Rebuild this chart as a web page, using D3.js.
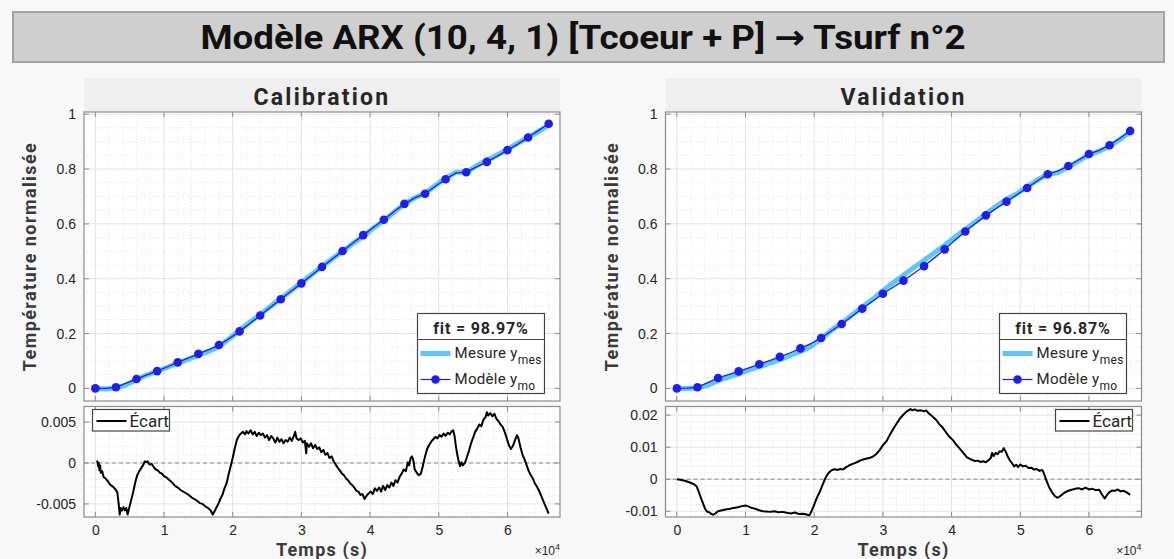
<!DOCTYPE html>
<html><head><meta charset="utf-8">
<script src="https://cdn.jsdelivr.net/npm/d3@7"></script>
<style>
html,body{margin:0;padding:0;background:#f8f8f8;}
svg{display:block;}
</style></head>
<body>
<svg id="fig" width="1174" height="559"></svg>
<script>
// ---------- DATA (time in units of 1e4 s) ----------
const mainTitle = "Modèle ARX (10, 4, 1) [Tcoeur + P] → Tsurf n°2";
const panelTitles = ["Calibration", "Validation"];
const fitLabels = ["fit = 98.97%", "fit = 96.87%"];
const xTicks = [0, 1, 2, 3, 4, 5, 6];
const yTicksTop = [0, 0.2, 0.4, 0.6, 0.8, 1];
const yTicksErrCal = [-0.005, 0, 0.005];
const yTicksErrVal = [-0.01, 0, 0.01, 0.02];

const timeFine = [0,0.15,0.3,0.45,0.6,0.75,0.9,1.05,1.2,1.35,1.5,1.65,1.8,1.95,2.1,2.25,2.4,2.55,2.7,2.85,3.0,3.15,3.3,3.45,3.6,3.75,3.9,4.05,4.2,4.35,4.5,4.65,4.8,4.95,5.1,5.25,5.4,5.55,5.7,5.85,6.0,6.15,6.3,6.45,6.6];

const mesCal = [0.000,-0.002,0.001,0.013,0.032,0.049,0.062,0.077,0.092,0.106,0.121,0.135,0.153,0.181,0.212,0.241,0.270,0.299,0.328,0.357,0.386,0.415,0.445,0.473,0.500,0.528,0.555,0.585,0.612,0.643,0.672,0.695,0.711,0.740,0.767,0.788,0.788,0.812,0.832,0.851,0.872,0.894,0.915,0.937,0.959];
const moCal = [0.000,0.000,0.004,0.019,0.034,0.049,0.063,0.079,0.095,0.110,0.126,0.141,0.158,0.182,0.208,0.237,0.266,0.296,0.325,0.354,0.383,0.413,0.443,0.472,0.501,0.530,0.559,0.588,0.615,0.645,0.673,0.695,0.710,0.737,0.763,0.786,0.788,0.808,0.826,0.846,0.869,0.891,0.915,0.940,0.965];

const mesVal = [0.000,0.000,0.002,0.011,0.028,0.041,0.053,0.067,0.079,0.091,0.105,0.120,0.135,0.153,0.181,0.212,0.238,0.268,0.297,0.325,0.356,0.385,0.413,0.441,0.467,0.495,0.522,0.552,0.580,0.608,0.637,0.664,0.690,0.710,0.735,0.760,0.781,0.787,0.807,0.830,0.852,0.865,0.883,0.908,0.934];
const moVal = [0.000,0.001,0.004,0.021,0.038,0.050,0.062,0.075,0.088,0.101,0.115,0.130,0.146,0.163,0.184,0.209,0.235,0.263,0.291,0.318,0.345,0.369,0.393,0.419,0.446,0.476,0.507,0.540,0.572,0.602,0.631,0.656,0.681,0.706,0.731,0.757,0.781,0.793,0.811,0.833,0.855,0.868,0.887,0.912,0.939];

const errCalT = [0.02,0.03,0.04,0.05,0.06,0.07,0.08,0.10,0.12,0.15,0.18,0.21,0.24,0.27,0.30,0.32,0.34,0.355,0.37,0.39,0.41,0.43,0.45,0.47,0.49,0.52,0.55,0.58,0.61,0.64,0.67,0.70,0.72,0.74,0.76,0.78,0.80,0.82,0.85,0.88,0.91,0.94,0.97,1.00,1.04,1.08,1.12,1.16,1.20,1.24,1.28,1.32,1.36,1.40,1.44,1.48,1.52,1.56,1.60,1.64,1.68,1.71,1.73,1.76,1.79,1.82,1.85,1.88,1.91,1.94,1.97,2.00,2.03,2.06,2.09,2.12,2.15,2.18,2.20,2.23,2.26,2.29,2.32,2.35,2.38,2.41,2.44,2.47,2.50,2.53,2.56,2.59,2.62,2.65,2.68,2.71,2.74,2.77,2.80,2.83,2.86,2.89,2.91,2.93,2.96,2.99,3.02,3.05,3.07,3.08,3.11,3.14,3.17,3.20,3.23,3.26,3.29,3.32,3.35,3.38,3.41,3.44,3.47,3.50,3.53,3.56,3.59,3.62,3.65,3.68,3.71,3.74,3.77,3.80,3.83,3.86,3.89,3.92,3.95,3.98,4.01,4.04,4.07,4.10,4.13,4.16,4.19,4.22,4.25,4.28,4.31,4.34,4.37,4.40,4.43,4.46,4.49,4.52,4.55,4.57,4.59,4.61,4.63,4.65,4.68,4.71,4.74,4.77,4.80,4.83,4.86,4.89,4.92,4.95,4.98,5.01,5.04,5.07,5.10,5.13,5.16,5.19,5.21,5.23,5.25,5.27,5.29,5.31,5.33,5.35,5.38,5.41,5.44,5.47,5.50,5.53,5.56,5.59,5.62,5.65,5.68,5.70,5.72,5.75,5.78,5.81,5.84,5.87,5.90,5.93,5.96,5.99,6.02,6.05,6.08,6.11,6.14,6.16,6.19,6.22,6.25,6.28,6.31,6.34,6.37,6.40,6.43,6.46,6.49,6.52,6.55,6.58,6.60];
const errCalV = [0.0001,0.0002,-0.0004,0.0000,-0.0009,-0.0003,-0.0012,-0.0010,-0.0017,-0.0019,-0.0022,-0.0026,-0.0028,-0.0030,-0.0033,-0.0036,-0.0050,-0.0063,-0.0055,-0.0058,-0.0054,-0.0058,-0.0055,-0.0063,-0.0056,-0.0046,-0.0036,-0.0024,-0.0015,-0.0010,-0.0006,-0.0002,0.0002,0.0001,0.0002,-0.0001,-0.0002,-0.0001,-0.0005,-0.0008,-0.0009,-0.0012,-0.0013,-0.0016,-0.0018,-0.0021,-0.0024,-0.0028,-0.0030,-0.0033,-0.0035,-0.0037,-0.0039,-0.0042,-0.0044,-0.0046,-0.0049,-0.0050,-0.0053,-0.0055,-0.0058,-0.0063,-0.0060,-0.0055,-0.0050,-0.0044,-0.0039,-0.0031,-0.0025,-0.0014,-0.0004,0.0006,0.0018,0.0028,0.0033,0.0036,0.0038,0.0035,0.0039,0.0036,0.0040,0.0035,0.0038,0.0033,0.0037,0.0034,0.0036,0.0031,0.0034,0.0028,0.0033,0.0030,0.0025,0.0031,0.0026,0.0029,0.0024,0.0028,0.0026,0.0031,0.0027,0.0033,0.0038,0.0030,0.0028,0.0030,0.0025,0.0027,0.0012,0.0024,0.0020,0.0024,0.0018,0.0022,0.0017,0.0019,0.0013,0.0016,0.0010,0.0012,0.0006,0.0008,0.0002,-0.0002,-0.0006,-0.0009,-0.0013,-0.0015,-0.0019,-0.0021,-0.0025,-0.0027,-0.0030,-0.0034,-0.0035,-0.0039,-0.0038,-0.0044,-0.0040,-0.0037,-0.0035,-0.0038,-0.0031,-0.0034,-0.0030,-0.0035,-0.0028,-0.0033,-0.0027,-0.0030,-0.0024,-0.0028,-0.0021,-0.0024,-0.0017,-0.0013,-0.0008,-0.0010,0.0001,-0.0003,0.0006,0.0008,0.0003,-0.0008,-0.0012,-0.0015,-0.0013,-0.0003,0.0008,0.0017,0.0022,0.0026,0.0029,0.0032,0.0030,0.0034,0.0032,0.0036,0.0033,0.0037,0.0035,0.0039,0.0040,0.0033,0.0020,0.0010,0.0002,-0.0004,0.0001,-0.0003,0.0000,0.0007,0.0015,0.0024,0.0031,0.0038,0.0042,0.0047,0.0045,0.0053,0.0056,0.0062,0.0058,0.0061,0.0057,0.0060,0.0054,0.0051,0.0047,0.0044,0.0038,0.0030,0.0022,0.0017,0.0021,0.0028,0.0034,0.0030,0.0019,0.0010,0.0004,-0.0003,-0.0010,-0.0015,-0.0019,-0.0025,-0.0029,-0.0034,-0.0040,-0.0046,-0.0052,-0.0058,-0.0062];

const errValT = [0.00,0.05,0.10,0.15,0.20,0.25,0.29,0.32,0.35,0.38,0.41,0.44,0.47,0.50,0.53,0.56,0.60,0.64,0.68,0.72,0.76,0.80,0.85,0.90,0.95,1.00,1.04,1.08,1.12,1.16,1.20,1.25,1.30,1.36,1.42,1.48,1.54,1.60,1.66,1.72,1.78,1.84,1.90,1.93,1.96,1.99,2.02,2.05,2.08,2.11,2.14,2.17,2.20,2.23,2.26,2.30,2.34,2.38,2.42,2.46,2.50,2.55,2.60,2.65,2.70,2.75,2.80,2.85,2.90,2.95,3.00,3.05,3.10,3.15,3.20,3.25,3.30,3.35,3.40,3.43,3.46,3.50,3.55,3.60,3.63,3.67,3.71,3.75,3.78,3.82,3.86,3.90,3.94,3.98,4.02,4.06,4.10,4.14,4.18,4.22,4.26,4.30,4.34,4.38,4.42,4.46,4.50,4.54,4.57,4.59,4.61,4.64,4.67,4.70,4.73,4.76,4.79,4.82,4.85,4.88,4.91,4.94,4.97,5.00,5.04,5.08,5.12,5.16,5.20,5.24,5.28,5.32,5.35,5.38,5.42,5.46,5.50,5.54,5.58,5.62,5.66,5.70,5.75,5.80,5.85,5.90,5.95,6.00,6.05,6.10,6.15,6.19,6.23,6.26,6.30,6.34,6.38,6.42,6.46,6.50,6.55,6.60];
const errValV = [0.0000,-0.0002,-0.0004,-0.0007,-0.0011,-0.0016,-0.0023,-0.0040,-0.0058,-0.0075,-0.0092,-0.0101,-0.0103,-0.0108,-0.0111,-0.0107,-0.0100,-0.0098,-0.0096,-0.0094,-0.0093,-0.0091,-0.0089,-0.0087,-0.0084,-0.0082,-0.0085,-0.0089,-0.0091,-0.0094,-0.0097,-0.0100,-0.0101,-0.0102,-0.0100,-0.0103,-0.0102,-0.0105,-0.0107,-0.0104,-0.0109,-0.0108,-0.0111,-0.0113,-0.0100,-0.0085,-0.0068,-0.0053,-0.0040,-0.0024,-0.0008,0.0006,0.0017,0.0024,0.0029,0.0031,0.0029,0.0032,0.0030,0.0037,0.0042,0.0047,0.0051,0.0056,0.0061,0.0064,0.0066,0.0070,0.0078,0.0090,0.0106,0.0118,0.0138,0.0157,0.0174,0.0190,0.0202,0.0212,0.0219,0.0215,0.0218,0.0214,0.0215,0.0212,0.0215,0.0205,0.0198,0.0190,0.0184,0.0172,0.0164,0.0152,0.0140,0.0130,0.0122,0.0110,0.0100,0.0090,0.0080,0.0069,0.0064,0.0060,0.0057,0.0058,0.0054,0.0056,0.0053,0.0060,0.0066,0.0082,0.0072,0.0082,0.0078,0.0087,0.0086,0.0097,0.0085,0.0070,0.0058,0.0050,0.0040,0.0045,0.0038,0.0046,0.0040,0.0042,0.0035,0.0036,0.0030,0.0032,0.0026,0.0029,0.0015,-0.0004,-0.0025,-0.0040,-0.0052,-0.0058,-0.0053,-0.0046,-0.0040,-0.0036,-0.0033,-0.0030,-0.0028,-0.0032,-0.0026,-0.0032,-0.0030,-0.0034,-0.0033,-0.0048,-0.0060,-0.0050,-0.0040,-0.0035,-0.0036,-0.0032,-0.0038,-0.0036,-0.0041,-0.0049];

// ---------- DRAWING ----------
const svg = d3.select("#fig");
const C_MES = "#5cc8f8", C_MO = "#1e1ef0", C_TXT = "#262626", C_AX = "#8c8c8c";
const FONT_LBL = "Roboto, 'DejaVu Sans', sans-serif";
const FONT_TICK = "'Liberation Sans', Arial, sans-serif";
const fmtTick = d => String(+d.toFixed(3)); // plain hyphen minus like the reference

// main title
svg.append("rect").attr("x",13).attr("y",12).attr("width",1151).attr("height",50)
  .attr("fill","#cfcfcf").attr("stroke","#a3a3a3").attr("stroke-width",2);
svg.append("text").attr("x",583).attr("y",49).attr("text-anchor","middle")
  .attr("font-family",FONT_LBL).attr("font-weight",700).attr("font-size",34)
  .attr("fill","#111").attr("textLength",765).attr("lengthAdjust","spacingAndGlyphs")
  .text(mainTitle);

function grid(g, x, y, xMinor, yMinor, xr, yr) {
  g.selectAll(null).data(xMinor).enter().append("line")
    .attr("x1",d=>x(d)).attr("x2",d=>x(d)).attr("y1",yr[0]).attr("y2",yr[1])
    .attr("stroke","#dcdcdc").attr("stroke-width",0.8).attr("stroke-dasharray","1,2");
  g.selectAll(null).data(yMinor).enter().append("line")
    .attr("y1",d=>y(d)).attr("y2",d=>y(d)).attr("x1",xr[0]).attr("x2",xr[1])
    .attr("stroke","#dcdcdc").attr("stroke-width",0.8).attr("stroke-dasharray","1,2");
}
function majorGrid(g, x, y, xt, yt, xr, yr) {
  g.selectAll(null).data(xt).enter().append("line")
    .attr("x1",d=>x(d)).attr("x2",d=>x(d)).attr("y1",yr[0]).attr("y2",yr[1])
    .attr("stroke","#e2e2e2").attr("stroke-width",1);
  g.selectAll(null).data(yt).enter().append("line")
    .attr("y1",d=>y(d)).attr("y2",d=>y(d)).attr("x1",xr[0]).attr("x2",xr[1])
    .attr("stroke","#e2e2e2").attr("stroke-width",1);
}
function frame(g, x, y, xt, yt, L, R, T, B, showXLabels) {
  const tl = 5;
  xt.forEach(d=>{
    g.append("line").attr("x1",x(d)).attr("x2",x(d)).attr("y1",B).attr("y2",B-tl).attr("stroke",C_AX);
    g.append("line").attr("x1",x(d)).attr("x2",x(d)).attr("y1",T).attr("y2",T+tl).attr("stroke",C_AX);
  });
  yt.forEach(d=>{
    g.append("line").attr("y1",y(d)).attr("y2",y(d)).attr("x1",L).attr("x2",L+tl).attr("stroke",C_AX);
    g.append("line").attr("y1",y(d)).attr("y2",y(d)).attr("x1",R).attr("x2",R-tl).attr("stroke",C_AX);
  });
  g.append("rect").attr("x",L).attr("y",T).attr("width",R-L).attr("height",B-T)
    .attr("fill","none").attr("stroke",C_AX).attr("stroke-width",1.2);
  const ya = d3.axisLeft(y).tickValues(yt).tickSize(0).tickPadding(8).tickFormat(fmtTick);
  const ag = g.append("g").attr("transform",`translate(${L},0)`).call(ya);
  ag.select(".domain").remove();
  ag.selectAll("text").attr("font-family",FONT_TICK).attr("font-size",14).attr("fill",C_TXT);
  if (showXLabels) {
    const xa = d3.axisBottom(x).tickValues(xt).tickSize(0).tickPadding(8).tickFormat(d3.format("d"));
    const xg = g.append("g").attr("transform",`translate(0,${B})`).call(xa);
    xg.select(".domain").remove();
    xg.selectAll("text").attr("font-family",FONT_TICK).attr("font-size",14).attr("fill",C_TXT);
  }
}

function drawPanel(p) {
  const g = svg.append("g");
  const L = p.L, R = p.R;
  const T1 = 112, B1 = 401, T2 = 406.5, B2 = 517;
  const x = d3.scaleLinear().domain([-0.165, 6.765]).range([L, R]);
  const y1 = d3.scaleLinear().domain([-0.046, 1.008]).range([B1, T1]);
  const y2 = d3.scaleLinear().domain(p.errDomain).range([B2, T2]);

  // panel title band
  g.append("rect").attr("x",L).attr("y",78).attr("width",R-L).attr("height",T1-78).attr("fill","#efefef");
  g.append("text").attr("x",(L+R)/2).attr("y",105).attr("text-anchor","middle")
    .attr("font-family",FONT_LBL).attr("font-weight",700).attr("font-size",23)
    .attr("letter-spacing",2.2).attr("fill",C_TXT).text(p.title);

  // --- top axes ---
  g.append("rect").attr("x",L).attr("y",T1).attr("width",R-L).attr("height",B1-T1).attr("fill","#fff");
  const xMinor = d3.range(0, 6.8, 0.2).filter(v=>Math.abs(v-Math.round(v))>1e-6);
  const yMinorTop = d3.range(0, 1.01, 0.05).filter(v=>Math.abs(v*5-Math.round(v*5))>1e-6);
  grid(g, x, y1, xMinor, yMinorTop, [L,R], [T1,B1]);
  majorGrid(g, x, y1, xTicks, yTicksTop, [L,R], [T1,B1]);

  const line = d3.line().x((d,i)=>x(timeFine[i])).y(d=>y1(d));
  g.append("path").datum(p.mes).attr("d",line).attr("fill","none")
    .attr("stroke",C_MES).attr("stroke-width",5).attr("stroke-linejoin","round");
  g.append("path").datum(p.mo).attr("d",line).attr("fill","none")
    .attr("stroke",C_MO).attr("stroke-width",1.3);
  g.selectAll(null).data(p.mo.map((v,i)=>[timeFine[i],v]).filter((d,i)=>i%2===0))
    .enter().append("circle").attr("cx",d=>x(d[0])).attr("cy",d=>y1(d[1])).attr("r",4.3).attr("fill",C_MO);

  frame(g, x, y1, xTicks, yTicksTop, L, R, T1, B1, false);

  // y label
  g.append("text").attr("transform",`translate(${L-48},${(T1+B1)/2}) rotate(-90)`)
    .attr("text-anchor","middle").attr("font-family",FONT_LBL).attr("font-weight",700)
    .attr("font-size",18).attr("letter-spacing",1.4).attr("fill","#3a3a3a").text("Température normalisée");

  // fit legend
  const lx = p.legX, ly = 313.5, lw = 127, lh = 80;
  const lg = g.append("g");
  lg.append("rect").attr("x",lx).attr("y",ly).attr("width",lw).attr("height",lh)
    .attr("fill","#fff").attr("stroke","#444").attr("stroke-width",1.2);
  lg.append("line").attr("x1",lx).attr("x2",lx+lw).attr("y1",ly+26).attr("y2",ly+26).attr("stroke","#444").attr("stroke-width",1.2);
  lg.append("text").attr("x",lx+lw/2).attr("y",ly+20).attr("text-anchor","middle")
    .attr("font-family",FONT_LBL).attr("font-weight",700).attr("font-size",16).attr("letter-spacing",0.8)
    .attr("fill",C_TXT).text(p.fit);
  lg.append("line").attr("x1",lx+3).attr("x2",lx+33).attr("y1",ly+40).attr("y2",ly+40)
    .attr("stroke",C_MES).attr("stroke-width",5);
  lg.append("line").attr("x1",lx+3).attr("x2",lx+33).attr("y1",ly+66).attr("y2",ly+66)
    .attr("stroke",C_MO).attr("stroke-width",1.2);
  lg.append("circle").attr("cx",lx+18).attr("cy",ly+66).attr("r",4.3).attr("fill",C_MO);
  const t1 = lg.append("text").attr("x",lx+37).attr("y",ly+44).attr("font-family",FONT_LBL)
    .attr("font-size",15).attr("letter-spacing",0.3).attr("fill",C_TXT);
  t1.append("tspan").text("Mesure y");
  t1.append("tspan").attr("dy",6).attr("font-size",12).text("mes");
  const t2 = lg.append("text").attr("x",lx+37).attr("y",ly+70).attr("font-family",FONT_LBL)
    .attr("font-size",15).attr("letter-spacing",0.3).attr("fill",C_TXT);
  t2.append("tspan").text("Modèle y");
  t2.append("tspan").attr("dy",6).attr("font-size",12).text("mo");

  // --- bottom axes ---
  g.append("rect").attr("x",L).attr("y",T2).attr("width",R-L).attr("height",B2-T2).attr("fill","#fff");
  const yMin = [];
  const st = p.errMinor;
  for (let k = Math.ceil(p.errDomain[0]/st); k*st <= p.errDomain[1]; k++) {
    const v = k*st;
    if (!p.errTicks.some(t=>Math.abs(t-v)<1e-9)) yMin.push(v);
  }
  grid(g, x, y2, xMinor, yMin, [L,R], [T2,B2]);
  majorGrid(g, x, y2, xTicks, p.errTicks, [L,R], [T2,B2]);
  g.append("line").attr("x1",L).attr("x2",R).attr("y1",y2(0)).attr("y2",y2(0))
    .attr("stroke","#8a8a8a").attr("stroke-width",1).attr("stroke-dasharray","4,3");
  g.append("path").datum(p.errV).attr("fill","none").attr("stroke","#000").attr("stroke-width",2)
    .attr("stroke-linejoin","round")
    .attr("d", d3.line().x((d,i)=>x(p.errT[i])).y(d=>y2(d)));
  frame(g, x, y2, xTicks, p.errTicks, L, R, T2, B2, true);

  // écart legend
  const ex = p.errLegX, ey = 409.5;
  g.append("rect").attr("x",ex).attr("y",ey).attr("width",77).attr("height",21.5)
    .attr("fill","#fff").attr("stroke","#444").attr("stroke-width",1.2);
  g.append("line").attr("x1",ex+4).attr("x2",ex+34).attr("y1",ey+11.5).attr("y2",ey+11.5)
    .attr("stroke","#000").attr("stroke-width",2);
  g.append("text").attr("x",ex+37).attr("y",ey+17.5).attr("font-family",FONT_LBL)
    .attr("font-size",17).attr("fill",C_TXT).text("Écart");

  // x label + exponent
  g.append("text").attr("x",(L+R)/2).attr("y",556).attr("text-anchor","middle")
    .attr("font-family",FONT_LBL).attr("font-weight",700).attr("font-size",18)
    .attr("letter-spacing",1.2).attr("fill","#3a3a3a").text("Temps (s)");
  const ex4 = g.append("text").attr("x",R).attr("y",555).attr("text-anchor","end")
    .attr("font-family",FONT_TICK).attr("font-size",12).attr("fill",C_TXT);
  ex4.append("tspan").text("×10");
  ex4.append("tspan").attr("dy",-5).attr("font-size",9).text("4");
}

drawPanel({L:84, R:560, title:panelTitles[0], mes:mesCal, mo:moCal, fit:fitLabels[0], legX:417.5,
  errT:errCalT, errV:errCalV, errDomain:[-0.0066,0.0069], errTicks:yTicksErrCal, errMinor:0.001, errLegX:92.5});
drawPanel({L:665.5, R:1141.5, title:panelTitles[1], mes:mesVal, mo:moVal, fit:fitLabels[1], legX:999.5,
  errT:errValT, errV:errValV, errDomain:[-0.0118,0.0227], errTicks:yTicksErrVal, errMinor:0.002, errLegX:1055.5});
</script>
</body></html>
